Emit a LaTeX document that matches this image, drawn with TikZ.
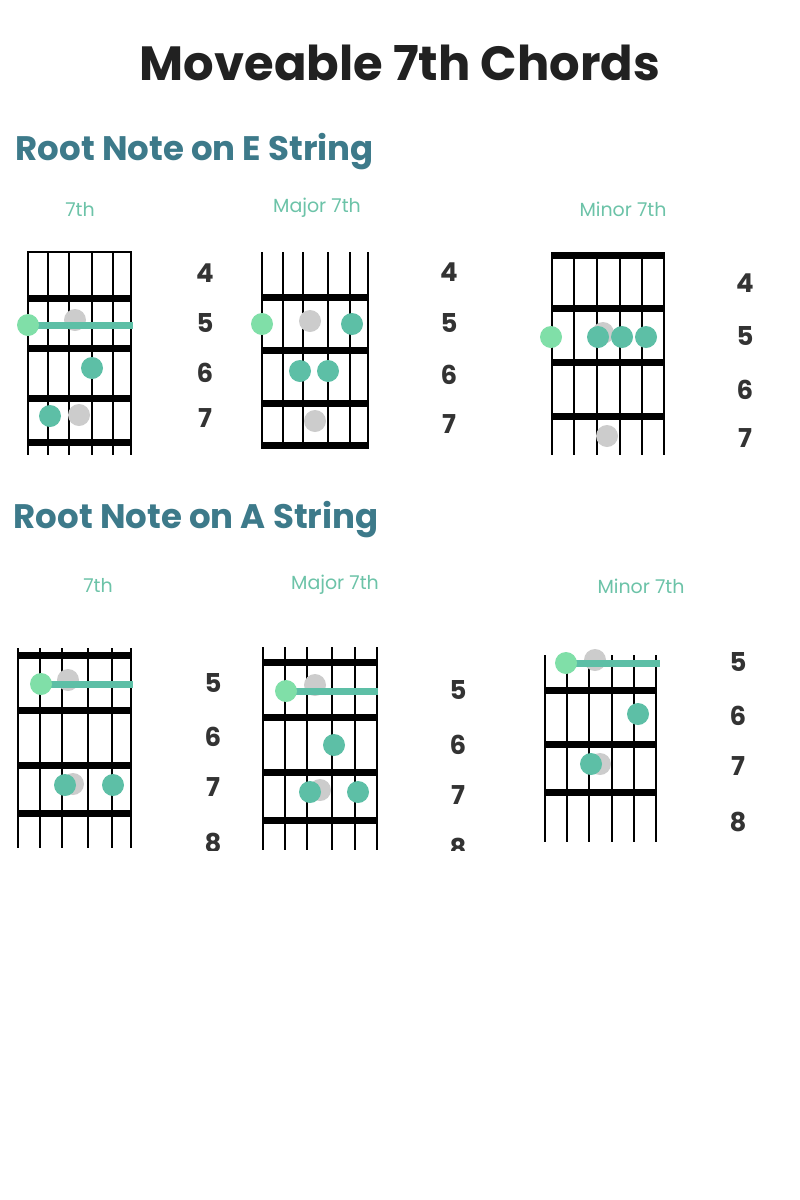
\documentclass[tikz,border=0pt]{standalone}
\usepackage{fontspec}
\setmainfont{Poppins}
\definecolor{headteal}{HTML}{3D7A8A}
\definecolor{labelgreen}{HTML}{6CC3A8}
\definecolor{noteteal}{HTML}{5DBFA6}
\definecolor{rootgreen}{HTML}{80DFA8}
\definecolor{ghost}{HTML}{CCCCCC}
\tikzset{
  string/.style={line width=1.6pt,black},
  fretbar/.style={line width=7pt,black},
  barre/.style={line width=7pt,noteteal},
  note/.style={circle,fill=noteteal,minimum size=22pt,inner sep=0pt},
  rootnote/.style={circle,fill=rootgreen,minimum size=22pt,inner sep=0pt},
  ghostnote/.style={circle,fill=ghost,minimum size=22pt,inner sep=0pt},
  fretnum/.style={font=\fontsize{26}{26}\selectfont\bfseries,text=black!80},
  chordname/.style={font=\fontsize{19}{19}\selectfont,text=labelgreen},
  rowhead/.style={font=\fontsize{34}{34}\selectfont\bfseries,text=headteal,anchor=west}
}
% strings list, top, bottom, frets list, left x, right x
\newcommand\fretboard[6]{
\foreach \s in {#1} \draw[string] (\s,#2) -- (\s,#3);
\foreach \f in {#4} \draw[fretbar] (#5-0.8,\f) -- (#6+0.8,\f);
}
\begin{document}
\begin{tikzpicture}[x=1pt,y=-1pt]
\useasboundingbox[fill=white] (0,0) rectangle (800,1200);
\node[font=\fontsize{48}{48}\selectfont\bfseries,text=black!87] (title) at (400,63) {Moveable 7th Chords};
\node[rowhead] (headE) at (12,152) {Root Note on E String};
\node[rowhead] (headA) at (10,520) {Root Note on A String};
\node[chordname] (nE1) at (80,209) {7th};
\node[chordname] (nE2) at (317,208) {Major 7th};
\node[chordname] (nE3) at (623,209) {Minor 7th};
\node[chordname] (nA1) at (98,585) {7th};
\node[chordname] (nA2) at (335,585) {Major 7th};
\node[chordname] (nA3) at (641,586) {Minor 7th};
% E string, 7th
\fretboard{28,48,69,92,113,131}{251}{455}{298,348,398,442}{28}{131}
\draw[line width=2pt] (27,252) -- (132,252);
\node[ghostnote] (g1) at (75,320) {};
\draw[barre] (28,325) -- (133,325);
\node[rootnote] (r1) at (28,325) {};
\node[note] (a1) at (92,368) {};
\node[ghostnote] (g2) at (79,415) {};
\node[note] (a2) at (50,416) {};
\foreach \n/\y in {4/273,5/323,6/373,7/418} \node[fretnum] (e1f\n) at (205,\y) {\n};
% E string, major 7th
\fretboard{262,283,303,328,350,368}{252}{447}{297,350,403,445}{262}{368}
\node[ghostnote] (g3) at (310,321) {};
\node[rootnote] (r2) at (262,324) {};
\node[note] (b1) at (352,324) {};
\node[note] (b2) at (300,371) {};
\node[note] (b3) at (328,371) {};
\node[ghostnote] (g4) at (315,421) {};
\foreach \n/\y in {4/272,5/323,6/375,7/424} \node[fretnum] (e2f\n) at (449,\y) {\n};
% E string, minor 7th
\fretboard{552,574,597,620,642,664}{252}{455}{255,308,362,416}{552}{664}
\node[ghostnote] (g5) at (603,333) {};
\node[rootnote] (r3) at (551,337) {};
\node[note] (c1) at (598,337) {};
\node[note] (c2) at (622,337) {};
\node[note] (c3) at (646,337) {};
\node[ghostnote] (g6) at (607,436) {};
\foreach \n/\y in {4/283,5/336,6/390,7/438} \node[fretnum] (e3f\n) at (745,\y) {\n};
% A string, 7th
\fretboard{18,40,62,88,112,131}{648}{848}{655,710,765,813}{18}{131}
\node[ghostnote] (g7) at (68,680) {};
\draw[barre] (41,684) -- (133,684);
\node[rootnote] (r4) at (41,684) {};
\node[ghostnote] (g8) at (73,784) {};
\node[note] (d1) at (65,785) {};
\node[note] (d2) at (113,785) {};
% A string, major 7th
\fretboard{263,285,307,332,355,377}{647}{850}{662,717,772,820}{263}{377}
\node[ghostnote] (g9) at (315,685) {};
\draw[barre] (286,691) -- (378,691);
\node[rootnote] (r5) at (286,691) {};
\node[note] (f1) at (334,745) {};
\node[ghostnote] (g10) at (320,790) {};
\node[note] (f2) at (310,792) {};
\node[note] (f3) at (358,792) {};
% A string, minor 7th
\fretboard{545,567,589,612,634,656}{655}{842}{690,744,792}{545}{656}
\node[ghostnote] (g11) at (595,660) {};
\draw[barre] (566,663) -- (660,663);
\node[rootnote] (r6) at (566,663) {};
\node[note] (h1) at (638,714) {};
\node[ghostnote] (g12) at (600,764) {};
\node[note] (h2) at (591,764) {};
\foreach \n/\y in {6/716,7/766,8/822} \node[fretnum] (a3f\n) at (738,\y) {\n};
% numbers cut at the edges
\begin{scope}
\clip (150,652) rectangle (500,850);
\foreach \n/\y in {5/683,6/737,7/787,8/843} \node[fretnum] (a1f\n) at (213,\y) {\n};
\foreach \n/\y in {4/638,5/690,6/745,7/795,8/848} \node[fretnum] (a2f\n) at (458,\y) {\n};
\end{scope}
\begin{scope}
\clip (700,652) rectangle (780,700);
\node[fretnum] (a3f5) at (738,662) {5};
\end{scope}
\end{tikzpicture}
\end{document}
